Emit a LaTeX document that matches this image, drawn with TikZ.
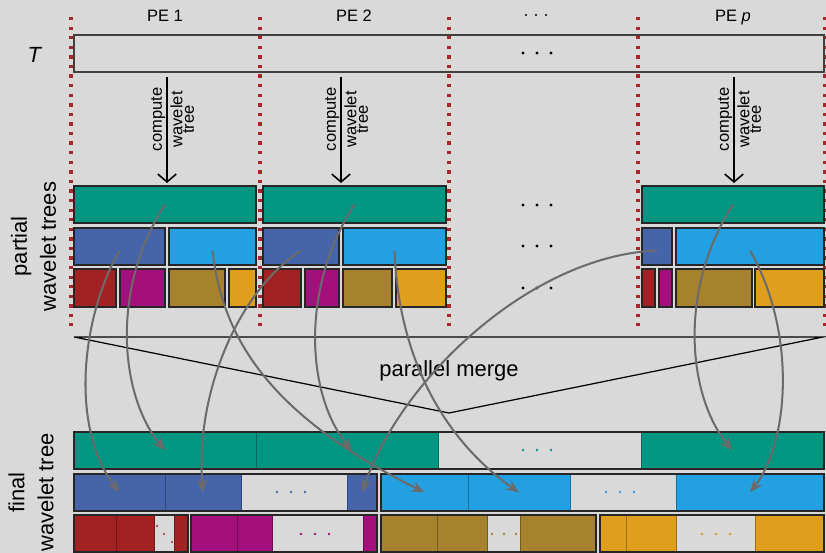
\documentclass[tikz,border=0pt]{standalone}
\usepackage{fontspec}
\setmainfont{Liberation Sans}
\usepackage{xcolor}
\usepackage{tikz}
\usetikzlibrary{arrows.meta}
\usetikzlibrary{fit}
\definecolor{bggray}{HTML}{D9D9D9}
\definecolor{sepred}{HTML}{A8262A}
\definecolor{arrowgray}{HTML}{6B6B6B}
\definecolor{wtteal}{HTML}{009682}
\definecolor{wtblue}{HTML}{4664AA}
\definecolor{wtcyan}{HTML}{23A0E1}
\definecolor{wtred}{HTML}{A22223}
\definecolor{wtmagenta}{HTML}{A3107C}
\definecolor{wtolive}{HTML}{A7822E}
\definecolor{wtorange}{HTML}{E09E1F}
\newcommand{\labelfont}{\fontsize{9.4}{11.3}\selectfont}
\newcommand{\sidefont}{\fontsize{12.5}{16.5}\selectfont}
\tikzstyle{peline} = [sepred, line width=1.9pt, dash pattern=on 1.9pt off 3.55pt]
\tikzstyle{partbox} = [draw=black!85, line width=0.75pt, inner sep=0pt]
\tikzstyle{finalseg} = [inner sep=0pt, line width=0.4pt]
\tikzstyle{finalbox} = [draw=black!85, line width=0.75pt, inner sep=0pt]
\tikzstyle{computearrow} = [black, line width=0.9pt, -{Straight Barb[length=4.5pt, width=10.5pt]}]
\tikzstyle{mergearrow} = [arrowgray, line width=1.15pt, -{Stealth[length=7.5pt, width=6pt]}]

\begin{document}
\begin{tikzpicture}[x=0.02cm, y=-0.02cm]
	\useasboundingbox (0,0) rectangle (826,553);
	\fill[bggray] (0,0) rectangle (826,553);
	
	\foreach \x in {71, 260, 449, 638, 825}
	{
		\draw[peline] (\x,17) -- (\x,326);
	}
	
	\node[font=\labelfont, anchor=base] (pe1) at (165,22) {PE 1};
	\node[font=\labelfont, anchor=base] (pe2) at (354,22) {PE 2};
	\node[font=\labelfont, anchor=base] (pep) at (733,22) {PE \textit{p}};
	\foreach \x in {526, 536, 546}
	{
		\fill (\x,15) circle (1.1);
	}
	
	\node[font=\sidefont] (tlabel) at (35,55) {\textit{T}};
	\node[draw=black!75, line width=0.75pt, inner sep=0pt, fit={(74,35) (824,72)}] (text) {};
	\foreach \x in {523, 537, 551}
	{
		\fill (\x,53) circle (1.7);
	}
	
	\foreach \n/\x in {1/167, 2/341, p/734}
	{
		\coordinate (ctop\n) at (\x,77);
		\coordinate (cbot\n) at (\x,183);
		\draw[computearrow] (ctop\n) -- (cbot\n)
			node[pos=0.4, rotate=90, anchor=south, inner sep=0.5pt, font=\labelfont] (clab\n) {compute}
			node[pos=0.4, rotate=90, anchor=north, inner sep=1.5pt, font=\labelfont, align=center] (wlab\n) {wavelet\\[-4.7pt]tree};
	}
	
	\node[font=\sidefont, rotate=90, align=center] (partlabel) at (33.6,246.5) {partial\\wavelet trees};
	\node[font=\sidefont, rotate=90, align=center] (finallabel) at (31,492.5) {final\\wavelet tree};
	
	\foreach \name/\xa/\ya/\xb/\yb/\col in {g1/74/186/256/223/wtteal, b1/74/228/165/265/wtblue, c1/169/228/256/265/wtcyan, r1/74/269/116/307/wtred, m1/120/269/165/307/wtmagenta, o1/169/269/225/307/wtolive, y1/229/269/256/307/wtorange}
	{
		\node[partbox, fill=\col, fit={(\xa,\ya) (\xb,\yb)}] (\name) {} ;
	}
	\foreach \name/\xa/\ya/\xb/\yb/\col in {g2/263/186/446/223/wtteal, b2/263/228/339/265/wtblue, c2/343/228/446/265/wtcyan, r2/263/269/301/307/wtred, m2/305/269/339/307/wtmagenta, o2/343/269/392/307/wtolive, y2/396/269/446/307/wtorange}
	{
		\node[partbox, fill=\col, fit={(\xa,\ya) (\xb,\yb)}] (\name) {} ;
	}
	\foreach \name/\xa/\ya/\xb/\yb/\col in {gp/642/186/824/223/wtteal, bp/642/228/672/265/wtblue, cp/676/228/824/265/wtcyan, rp/642/269/655/307/wtred, mp/659/269/672/307/wtmagenta, op/676/269/752/307/wtolive, yp/755/269/824/307/wtorange}
	{
		\node[partbox, fill=\col, fit={(\xa,\ya) (\xb,\yb)}] (\name) {} ;
	}
	\foreach \y in {205, 246, 288}
	{
		\foreach \x in {523, 537, 551}
		{
			\fill (\x,\y) circle (1.7);
		}
	}
	
	\coordinate (mleft) at (74,337);
	\coordinate (mright) at (823,337);
	\coordinate (mtip) at (449,413);
	\draw[line width=0.7pt] (mleft) -- (mright) -- (mtip) -- cycle;
	\node[font=\sidefont] (merge) at (449,371) {parallel merge};
	
	\foreach \name/\xa/\xb/\col in {fg1/74/256/wtteal, fg2/256/438/wtteal, fg3/641/824/wtteal}
	{
		\node[finalseg, fill=\col, draw=\col!70!black, fit={(\xa,432) (\xb,469)}] (\name) {} ;
	}
	\node[finalbox, fit={(74,432) (824,469)}] (frowg) {} ;
	
	\foreach \name/\xa/\xb/\col in {fb1/74/165/wtblue, fb2/165/241/wtblue, fb3/347/377/wtblue, fc1/381/468/wtcyan, fc2/468/570/wtcyan, fc3/676/824/wtcyan}
	{
		\node[finalseg, fill=\col, draw=\col!70!black, fit={(\xa,474) (\xb,511)}] (\name) {} ;
	}
	\node[finalbox, fit={(74,474) (377,511)}] (frowb) {} ;
	\node[finalbox, fit={(381,474) (824,511)}] (frowc) {} ;
	
	\foreach \name/\xa/\xb/\col in {fr1/74/116/wtred, fr2/116/154/wtred, fr3/174/188/wtred, fm1/191/237/wtmagenta, fm2/237/272/wtmagenta, fm3/363/377/wtmagenta, fo1/381/437/wtolive, fo2/437/487/wtolive, fo3/520/596/wtolive, fy1/600/626/wtorange, fy2/626/676/wtorange, fy3/755/824/wtorange}
	{
		\node[finalseg, fill=\col, draw=\col!70!black, fit={(\xa,515) (\xb,552)}] (\name) {} ;
	}
	\foreach \name/\xa/\xb in {frowr/74/188, frowm/191/377, frowo/381/596, frowy/600/824}
	{
		\node[finalbox, fit={(\xa,515) (\xb,552)}] (\name) {} ;
	}
	
	\foreach \x/\y/\col in {523/450/wtteal, 537/450/wtteal, 551/450/wtteal, 277/492/wtblue, 291/492/wtblue, 305/492/wtblue, 606/492/wtcyan, 620/492/wtcyan, 634/492/wtcyan, 301/534/wtmagenta, 315/534/wtmagenta, 329/534/wtmagenta, 492/534/wtolive, 504/534/wtolive, 516/534/wtolive, 702/534/wtorange, 716/534/wtorange, 730/534/wtorange}
	{
		\fill[\col] (\x,\y) circle (1.4);
	}
	\foreach \x/\y in {157/526, 164/534, 172/542}
	{
		\fill[wtred] (\x,\y) circle (1.1);
	}
	
	\foreach \s/\sy/\e/\ex/\ax/\ay/\bx/\by in {g1/0/fg1/0/-55/85/-45/-55, b1/-2.3/fb1/0/-37/64/-51/-67, c1/-2.3/fc1/0/10/89/-154/-77, b2/-2.3/fb2/0/-61/39/-8/-102, g2/0/fg2/2.8/-55/85/-45/-55, c2/-2.3/fc2/0/4/109/-74/-52, bp/-2.3/fb3/0/-127/5/38/-112, gp/0/fg3/0/-55/85/-45/-55, cp/-2.3/fc3/0/46/80/40/-52}
	{
		\draw[mergearrow] ([yshift=\sy pt]\s.center) .. controls +(\ax,\ay) and +(\bx,\by) .. ([xshift=\ex pt]\e.center);
	}
\end{tikzpicture}
\end{document}
